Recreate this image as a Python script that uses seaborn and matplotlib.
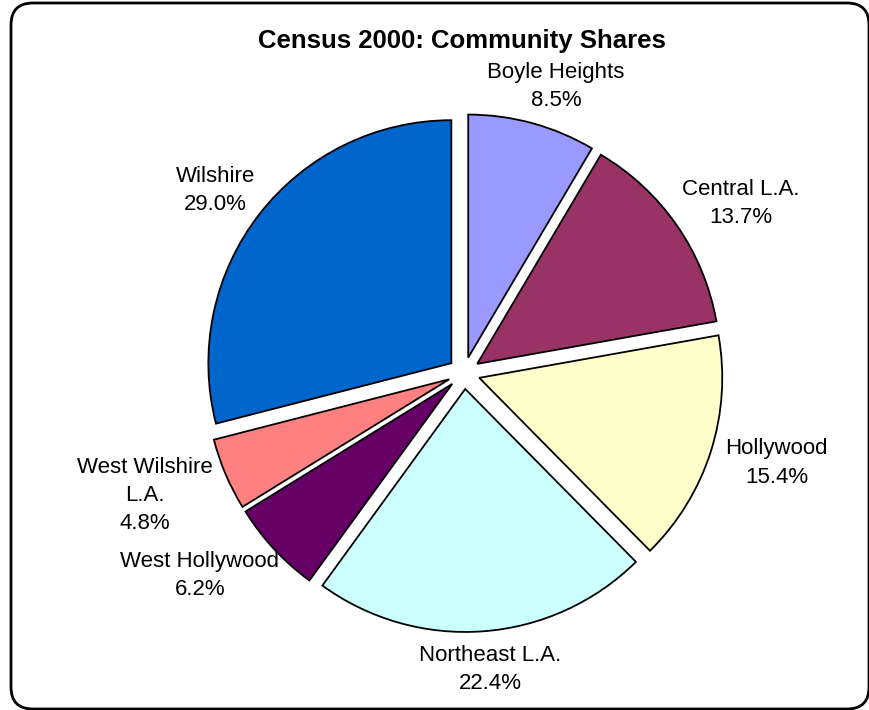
import matplotlib
matplotlib.use('Agg')
import matplotlib.pyplot as plt
import seaborn as sns
import numpy as np
from matplotlib.patches import FancyBboxPatch

# data, clockwise from 12 o'clock
communities = ['Boyle Heights', 'Central L.A.', 'Hollywood', 'Northeast L.A.',
               'West Hollywood', 'West Wilshire\nL.A.', 'Wilshire']
shares = [8.5, 13.7, 15.4, 22.4, 6.2, 4.8, 29.0]
slice_colors = ['#9999FF', '#993366', '#FFFFCC', '#CCFFFF',
                '#660066', '#FF8080', '#0066CC']
title = 'Census 2000: Community Shares'

sns.set_theme(style="white")
plt.rcParams['font.family'] = ['Liberation Sans', 'DejaVu Sans']

W, H = 870, 710
fig = plt.figure(figsize=(W / 100, H / 100), dpi=100)
fig.patch.set_facecolor('white')
ax = fig.add_axes([0, 0, 1, 1])

# pie geometry in pixel units (y up)
cx, cy, r = 464, H - 373, 243
gap = 16  # explode offset, px
palette = sns.color_palette(slice_colors)

wedges, _ = ax.pie(shares, colors=palette, startangle=90, counterclock=False,
                   center=(cx, cy), radius=r, explode=[gap] * len(shares),
                   wedgeprops=dict(edgecolor='black', linewidth=1.3))
ax.set_xlim(0, W)
ax.set_ylim(0, H)
ax.set_aspect('equal')
ax.axis('off')

# labels outside each slice, pushed out by their own box size
renderer = fig.canvas.get_renderer()
dist = r + gap + 10
for w, name, v in zip(wedges, communities, shares):
    ang = np.deg2rad((w.theta1 + w.theta2) / 2)
    dx, dy = np.cos(ang), np.sin(ang)
    t = ax.text(cx + dist * dx, cy + dist * dy, f'{name}\n{v:.1f}%',
                ha='center', va='center', multialignment='center',
                fontsize=16, linespacing=1.45, color='black')
    bb = t.get_window_extent(renderer)
    hw, hh = bb.width / 2, bb.height / 2
    t.set_position((cx + dist * dx + 1.15 * hw * dx,
                    cy + dist * dy + 1.15 * hh * dy))

ax.text(462, H - 41, title, ha='center', va='center',
        fontsize=18.5, fontweight='bold', color='black')

# rounded chart border
border = FancyBboxPatch((11, 1), 858, 706,
                        boxstyle='round,pad=0,rounding_size=22',
                        facecolor='none', edgecolor='black', linewidth=2,
                        clip_on=False)
ax.add_patch(border)

fig.savefig('out.png', dpi=100, facecolor='white')
plt.close(fig)
